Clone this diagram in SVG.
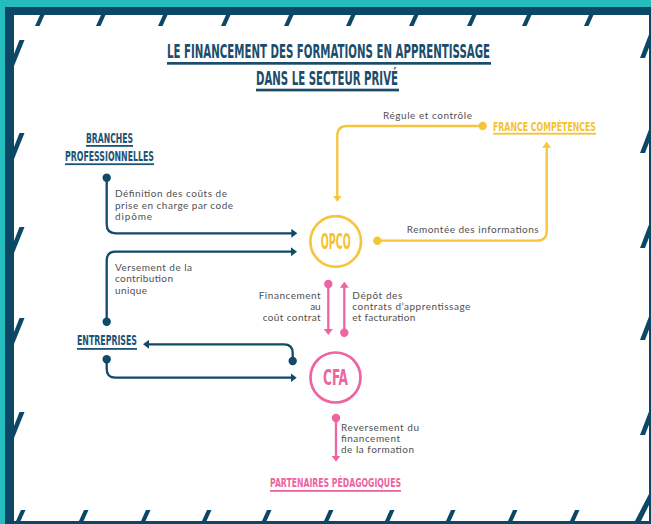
<svg xmlns="http://www.w3.org/2000/svg" width="651" height="524" viewBox="0 0 651 524">
<defs>
<style>
.cap{font-family:"DejaVu Sans Condensed","DejaVu Sans",sans-serif;font-weight:bold;}
.body{font-family:Lato,"Open Sans",sans-serif;font-size:10px;fill:#505050;}
.ttl{fill:#1b4d6b}
.nv{fill:#1d5374}
.yl{fill:#f5c230}
.pk{fill:#ec64a0}
.ln{fill:none;stroke-width:2.3}
.n{stroke:#0f4a68}
.y{stroke:#f6c53b}
.p{stroke:#ec64a0}
.mk{fill:#0c4766}
</style>
<marker id="an" viewBox="0 0 6 9" refX="2" refY="4.5" markerWidth="6" markerHeight="9" markerUnits="userSpaceOnUse" orient="auto"><path d="M0,0L6,4.5L0,9z" fill="#0f4a68"/></marker>
<marker id="ay" viewBox="0 0 6 9" refX="2" refY="4.5" markerWidth="6" markerHeight="9" markerUnits="userSpaceOnUse" orient="auto"><path d="M0,0L6,4.5L0,9z" fill="#f6c53b"/></marker>
<marker id="ap" viewBox="0 0 6 9" refX="2" refY="4.5" markerWidth="6" markerHeight="9" markerUnits="userSpaceOnUse" orient="auto"><path d="M0,0L6,4.5L0,9z" fill="#ec64a0"/></marker>
</defs>
<g id="frame">
<rect width="651" height="524" fill="#25bcbd"/>
<rect x="5" y="7" width="646" height="517" fill="#0c4766"/>
<rect x="14" y="15" width="635" height="506" fill="#fff"/>
<g class="mk">
<polygon points="35,26 39.5,26 44.5,15 40,15"/>
<polygon points="96,26 100.5,26 105.5,15 101,15"/>
<polygon points="158,26 162.5,26 167.5,15 163,15"/>
<polygon points="221,26 225.5,26 230.5,15 226,15"/>
<polygon points="284,26 288.5,26 293.5,15 289,15"/>
<polygon points="346,26 350.5,26 355.5,15 351,15"/>
<polygon points="409,26 413.5,26 418.5,15 414,15"/>
<polygon points="467,26 471.5,26 476.5,15 472,15"/>
<polygon points="522,26 526.5,26 531.5,15 527,15"/>
<polygon points="584,26 588.5,26 593.5,15 589,15"/>
<polygon points="16,521 20.5,521 25.5,510 21,510"/>
<polygon points="79,521 83.5,521 88.5,510 84,510"/>
<polygon points="141,521 145.5,521 150.5,510 146,510"/>
<polygon points="202,521 206.5,521 211.5,510 207,510"/>
<polygon points="262,521 266.5,521 271.5,510 267,510"/>
<polygon points="324,521 328.5,521 333.5,510 329,510"/>
<polygon points="385,521 389.5,521 394.5,510 390,510"/>
<polygon points="446,521 450.5,521 455.5,510 451,510"/>
<polygon points="508,521 512.5,521 517.5,510 513,510"/>
<polygon points="570,521 574.5,521 579.5,510 575,510"/>
<polygon points="635,521 641,521 649,505 649,494"/>
<polygon points="14,66 14,54 19.5,40 24.5,40"/>
<polygon points="14,159 14,147 19.5,133 24.5,133"/>
<polygon points="14,253 14,241 19.5,227 24.5,227"/>
<polygon points="14,344 14,332 19.5,318 24.5,318"/>
<polygon points="14,438 14,426 19.5,412 24.5,412"/>
<polygon points="640,58 645,58 649,47.5 649,34.5"/>
<polygon points="640,153 645,153 649,142.5 649,129.5"/>
<polygon points="640,248 645,248 649,237.5 649,224.5"/>
<polygon points="640,340 645,340 649,329.5 649,316.5"/>
<polygon points="640,435 645,435 649,424.5 649,411.5"/>
</g>
</g>
<g id="title">
<text class="cap ttl" transform="translate(167,58) scale(0.62,1)" x="0" y="0" font-size="19" textLength="521" lengthAdjust="spacingAndGlyphs">LE FINANCEMENT DES FORMATIONS EN APPRENTISSAGE</text>
<rect class="ttl" x="167" y="62" width="324" height="2.7"/>
<text class="cap ttl" transform="translate(256,85) scale(0.62,1)" x="0" y="0" font-size="19" textLength="229" lengthAdjust="spacingAndGlyphs">DANS LE SECTEUR PRIVÉ</text>
<rect class="ttl" x="256" y="88.7" width="143" height="2.7"/>
</g>
<g id="connectors">
<path class="ln n" d="M106.7,178 V224.3 Q106.7,233.3 115.7,233.3 H293.3" marker-end="url(#an)"/>
<path class="ln n" d="M106.7,321.7 V260.7 Q106.7,251.7 115.7,251.7 H293" marker-end="url(#an)"/>
<path class="ln n" d="M292.7,361 V353 Q292.7,344.3 284,344.3 H147" marker-end="url(#an)"/>
<path class="ln n" d="M106.7,359.3 V369 Q106.7,377.7 115.4,377.7 H292.7" marker-end="url(#an)"/>
<path class="ln y" d="M482.7,126 H347 Q337.3,126 337.3,135.7 V197.7" marker-end="url(#ay)"/>
<path class="ln y" d="M377.3,240.7 H537 Q546.7,240.7 546.7,231 V145.7" marker-end="url(#ay)"/>
<path class="ln p" d="M328.3,284 V331" marker-end="url(#ap)"/>
<path class="ln p" d="M344.3,332.7 V285.7" marker-end="url(#ap)"/>
<path class="ln p" d="M336,418 V457.7" marker-end="url(#ap)"/>
<g fill="#0f4a68">
<circle cx="106.7" cy="177.7" r="4.2"/>
<circle cx="106.7" cy="321.7" r="4.2"/>
<circle cx="292.7" cy="361" r="4.2"/>
<circle cx="106.7" cy="359.3" r="4.2"/>
</g>
<g fill="#f6c53b">
<circle cx="482.7" cy="126" r="4.2"/>
<circle cx="377.3" cy="240.7" r="4.2"/>
</g>
<g fill="#ec64a0">
<circle cx="328.3" cy="284" r="4.2"/>
<circle cx="344.3" cy="332.7" r="4.2"/>
<circle cx="336" cy="418" r="4.2"/>
</g>
<g class="body">
<text x="383" y="119" textLength="89">Régule et contrôle</text>
<text x="406.7" y="233" textLength="132">Remontée des informations</text>
<text x="115" y="197.3" textLength="112">Définition des coûts de</text>
<text x="115" y="208.5" textLength="118">prise en charge par code</text>
<text x="115" y="219.5" textLength="37">dipôme</text>
<text x="115" y="270.5" textLength="77">Versement de la</text>
<text x="115" y="282" textLength="58">contribution</text>
<text x="115" y="293.5" textLength="32">unique</text>
<text x="320.7" y="299" text-anchor="end" textLength="62">Financement</text>
<text x="320.7" y="310" text-anchor="end">au</text>
<text x="320.7" y="321" text-anchor="end" textLength="58">coût contrat</text>
<text x="352.3" y="298.5" textLength="50">Dépôt des</text>
<text x="352.3" y="309.5" textLength="118">contrats d’apprentissage</text>
<text x="352.3" y="320.5" textLength="63">et facturation</text>
<text x="341" y="430.7" textLength="78">Reversement du</text>
<text x="341" y="441.7" textLength="59">financement</text>
<text x="341" y="452.7" textLength="73">de la formation</text>
</g>
</g>
<g id="branches">
<text class="cap nv" x="86" y="143" font-size="13.5" textLength="47" lengthAdjust="spacingAndGlyphs">BRANCHES</text>
<rect class="nv" x="86" y="145" width="47" height="1.8"/>
<text class="cap nv" x="65" y="161" font-size="13.5" textLength="89" lengthAdjust="spacingAndGlyphs">PROFESSIONNELLES</text>
<rect class="nv" x="65" y="163.3" width="89" height="1.8"/>
</g>
<g id="entreprises">
<text class="cap nv" x="77" y="345" font-size="13.5" textLength="60" lengthAdjust="spacingAndGlyphs">ENTREPRISES</text>
<rect class="nv" x="77" y="348" width="60" height="1.8"/>
</g>
<g id="france-competences">
<text class="cap yl" x="493" y="131" font-size="12.5" textLength="103" lengthAdjust="spacingAndGlyphs">FRANCE COMPÉTENCES</text>
<rect class="yl" x="493" y="132.8" width="103" height="1.8"/>
</g>
<g id="opco">
<circle cx="335.7" cy="241.5" r="25.3" fill="none" stroke="#f6c53b" stroke-width="2.7"/>
<text class="cap yl" x="335.7" y="248.5" font-size="20.5" text-anchor="middle" textLength="30" lengthAdjust="spacingAndGlyphs">OPCO</text>
</g>
<g id="cfa">
<circle cx="335.5" cy="377.5" r="25" fill="none" stroke="#ec64a0" stroke-width="2.7"/>
<text class="cap pk" x="335.5" y="385" font-size="20.5" text-anchor="middle" textLength="25" lengthAdjust="spacingAndGlyphs">CFA</text>
</g>
<g id="partenaires">
<text class="cap pk" x="270" y="487" font-size="13" textLength="131" lengthAdjust="spacingAndGlyphs">PARTENAIRES PÉDAGOGIQUES</text>
<rect class="pk" x="270" y="490" width="131" height="1.8"/>
</g>
</svg>
